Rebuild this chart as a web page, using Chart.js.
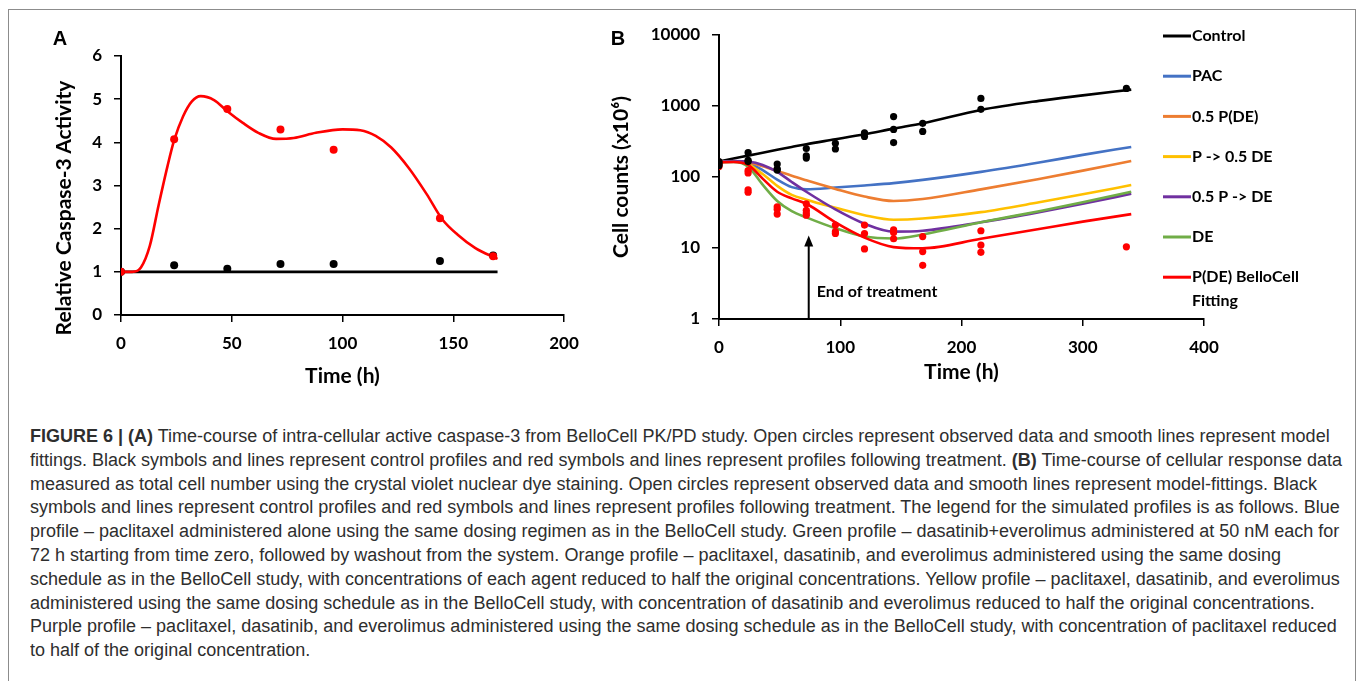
<!DOCTYPE html>
<html>
<head>
<meta charset="utf-8">
<script src="https://cdn.jsdelivr.net/npm/chart.js@4.4.0/dist/chart.umd.min.js"></script>
<style>
  body { margin: 0; background: #fff; width: 1357px; height: 681px; overflow: hidden; position: relative; }
  #frame { position: absolute; left: 8px; top: 9px; width: 1346px; height: 720px; border: 1px solid #8c8c8c; }
  #canvasA { position: absolute; left: 0; top: 0; }
  #canvasB { position: absolute; left: 600px; top: 0; }
  .panel { position: absolute; font: bold 20px "Liberation Sans", Arial, sans-serif; color: #000; transform: translate(-50%, -50%); }
  #ytitleA { position: absolute; left: 62px; top: 208px; transform: translate(-50%, -50%) rotate(-90deg);
             white-space: nowrap; font: bold 21px Lato, sans-serif; color: #000; }
  #caption { position: absolute; left: 30px; top: 425px; white-space: nowrap; transform-origin: 0 0;
             font: 18px "Liberation Sans Narrow", "Liberation Sans", Arial, sans-serif; line-height: 23.8px; color: #2e2e2e; }
</style>
</head>
<body>
<div id="frame"></div>
<canvas id="canvasA" width="600" height="400"></canvas>
<canvas id="canvasB" width="757" height="400"></canvas>
<div class="panel" style="left:60px;top:38px">A</div>
<div class="panel" style="left:618px;top:38px">B</div>
<div id="ytitleA">Relative Caspase-3 Activity</div>
<div id="caption">
<span><b>FIGURE 6 | (A)</b> Time-course of intra-cellular active caspase-3 from BelloCell PK/PD study. Open circles represent observed data and smooth lines represent model</span><br>
<span>fittings. Black symbols and lines represent control profiles and red symbols and lines represent profiles following treatment. <b>(B)</b> Time-course of cellular response data</span><br>
<span>measured as total cell number using the crystal violet nuclear dye staining. Open circles represent observed data and smooth lines represent model-fittings. Black</span><br>
<span>symbols and lines represent control profiles and red symbols and lines represent profiles following treatment. The legend for the simulated profiles is as follows. Blue</span><br>
<span>profile – paclitaxel administered alone using the same dosing regimen as in the BelloCell study. Green profile – dasatinib+everolimus administered at 50 nM each for</span><br>
<span id="refLine">72 h starting from time zero, followed by washout from the system. Orange profile – paclitaxel, dasatinib, and everolimus administered using the same dosing</span><br>
<span>schedule as in the BelloCell study, with concentrations of each agent reduced to half the original concentrations. Yellow profile – paclitaxel, dasatinib, and everolimus</span><br>
<span>administered using the same dosing schedule as in the BelloCell study, with concentration of dasatinib and everolimus reduced to half the original concentrations.</span><br>
<span>Purple profile – paclitaxel, dasatinib, and everolimus administered using the same dosing schedule as in the BelloCell study, with concentration of paclitaxel reduced</span><br>
<span>to half of the original concentration.</span>
</div>
<script>
// ---- panel A: caspase-3 activity ----
const caspTimes = [0, 24, 48, 72, 96, 144, 168];
const caspTreated = [1.0, 4.07, 4.77, 4.3, 3.83, 2.24, 1.36];
const caspControl = [1.0, 1.15, 1.07, 1.18, 1.18, 1.25, 1.38];
const caspFitTimes = [0, 5, 9, 13, 17, 21, 24, 28, 32, 36, 42, 48, 55, 62, 70, 78, 88, 100, 108, 115, 122, 130, 138, 145, 152, 160, 170];
const caspFit = [1.0, 1.0, 1.1, 1.6, 2.55, 3.45, 4.05, 4.6, 4.95, 5.07, 4.98, 4.72, 4.45, 4.22, 4.08, 4.1, 4.22, 4.3, 4.28, 4.15, 3.88, 3.4, 2.8, 2.22, 1.86, 1.55, 1.3];
const caspControlFitTimes = [0, 170];
const caspControlFit = [1, 1];

// ---- panel B: cell counts (x10^6) ----
const fitTimes = [0, 12, 24, 36, 48, 60, 72, 96, 120, 144, 168, 216, 264, 300, 340];
const fitControl = [165, 182, 200, 220, 242, 265, 290, 340, 400, 480, 570, 880, 1180, 1410, 1700];
const fitPAC = [162, 166, 158, 125, 92, 72, 67, 71, 76, 82, 91, 118, 160, 205, 265];
const fitHalfPDE = [162, 166, 160, 142, 122, 104, 90, 68, 53, 46, 49, 67, 94, 123, 168];
const fitPHalfDE = [162, 166, 152, 110, 75, 56, 48, 37, 29, 25, 26, 32, 44, 57, 77];
const fitHalfPDE2 = [162, 168, 165, 148, 118, 85, 62, 35, 22, 17, 17.5, 23, 32, 42, 58];
const fitDE = [160, 163, 140, 78, 46, 33, 27, 19, 14.5, 13.6, 15.5, 23, 33, 44, 62];
const fitBelloCell = [160, 163, 148, 95, 62, 50, 42, 23, 14, 10.3, 9.9, 13.5, 18.5, 23.5, 30];

const ctrlObsTimes = [0, 0, 0, 24, 24, 24, 48, 48, 48, 72, 72, 72, 96, 96, 120, 120, 144, 144, 144, 168, 168, 216, 216, 336];
const ctrlObs = [165, 155, 145, 220, 172, 165, 152, 125, 130, 252, 198, 185, 298, 248, 420, 372, 710, 468, 305, 570, 438, 1280, 898, 1770];
const trtObsTimes = [0, 0, 0, 24, 24, 24, 24, 48, 48, 48, 72, 72, 72, 72, 96, 96, 96, 120, 120, 120, 144, 144, 144, 168, 168, 168, 216, 216, 216, 336];
const trtObs = [162, 150, 140, 123, 114, 66, 61, 38, 35, 30, 42, 34, 31, 29, 21, 17, 16, 21, 16, 9.7, 18, 16.5, 13.5, 14.5, 8.9, 5.7, 17.5, 11, 8.7, 10.4];

const cellTicks = [1, 10, 100, 1000, 10000];
const treatmentEnd = 74;      // h, arrow position
const arrowTip = 15;          // cell count where the arrow ends
const arrowLabelAt = 2.4;     // cell count at label centre

const pts = (xs, ys) => xs.map((x, i) => ({ x: x, y: ys[i] }));

const tickFont = { family: "Lato", size: 17, weight: "bold" };
const titleFont = { family: "Lato", size: 21, weight: "bold" };

function axis(extra) {
  return Object.assign({
    ticks: { color: "#000", font: tickFont, padding: 11 },
    grid: { drawOnChartArea: false, color: "#000", lineWidth: 1.5, tickLength: 7 },
    border: { color: "#000", width: 2 },
  }, extra);
}

function fitLine(label, xs, ys, color, order) {
  return {
    label: label, data: pts(xs, ys), showLine: true, borderColor: color, backgroundColor: color,
    borderWidth: 2.6, pointRadius: 0, cubicInterpolationMode: "monotone", order: order, inLegend: true,
  };
}

function dots(label, xs, ys, color, r) {
  return { label: label, data: pts(xs, ys), showLine: false, pointRadius: r, pointBorderWidth: 0,
           backgroundColor: color, borderColor: color, order: 0 };
}

new Chart(document.getElementById("canvasA"), {
  type: "scatter",
  data: {
    datasets: [
      dots("treated", caspTimes, caspTreated, "#ff0000", 4),
      dots("control", caspTimes, caspControl, "#000000", 4),
      fitLine("treated fit", caspFitTimes, caspFit, "#ff0000", 1),
      fitLine("control fit", caspControlFitTimes, caspControlFit, "#000000", 2),
    ],
  },
  options: {
    responsive: false,
    animation: false,
    layout: { padding: { top: 56, right: 36, left: 0, bottom: 0 } },
    plugins: { legend: { display: false }, tooltip: { enabled: false } },
    scales: {
      x: axis({
        type: "linear", min: 0, max: 200,
        ticks: { color: "#000", font: tickFont, padding: 11, stepSize: 50 },
        title: { display: true, text: "Time (h)", color: "#000", font: titleFont, padding: { bottom: 11 } },
        afterFit: (s) => { s.height = 85; },
      }),
      y: axis({
        min: 0, max: 6,
        ticks: { color: "#000", font: tickFont, padding: 12, stepSize: 1 },
        afterFit: (s) => { s.width = 121; },
      }),
    },
  },
});

const legendLines = {
  id: "legendLines",
  afterDraw(chart) {
    const ctx = chart.ctx;
    let y = 36;
    ctx.save();
    ctx.font = "bold 16px Lato";
    ctx.textBaseline = "middle";
    chart.data.datasets.forEach((ds) => {
      if (!ds.inLegend) return;
      ctx.strokeStyle = ds.borderColor;
      ctx.lineWidth = 3;
      ctx.beginPath();
      ctx.moveTo(563, y);
      ctx.lineTo(591, y);
      ctx.stroke();
      ctx.fillStyle = "#000";
      // wrap long labels
      const words = ds.label.split(" ");
      let line = "";
      let ly = y;
      words.forEach((w) => {
        const test = line ? line + " " + w : w;
        if (ctx.measureText(test).width > 150 && line) {
          ctx.fillText(line, 592, ly);
          line = w;
          ly += 24;
        } else {
          line = test;
        }
      });
      ctx.fillText(line, 592, ly);
      y += 40.2;
    });
    ctx.restore();
  },
};

const endArrow = {
  id: "endArrow",
  afterDatasetsDraw(chart) {
    const ctx = chart.ctx;
    const xs = chart.scales.x, ys = chart.scales.y;
    const x = xs.getPixelForValue(treatmentEnd);
    const top = ys.getPixelForValue(arrowTip);
    ctx.save();
    ctx.strokeStyle = "#000";
    ctx.fillStyle = "#000";
    ctx.lineWidth = 2;
    ctx.beginPath();
    ctx.moveTo(x, chart.chartArea.bottom);
    ctx.lineTo(x, top + 8);
    ctx.stroke();
    ctx.beginPath();
    ctx.moveTo(x, top);
    ctx.lineTo(x - 4.5, top + 11);
    ctx.lineTo(x + 4.5, top + 11);
    ctx.closePath();
    ctx.fill();
    ctx.font = "bold 16px Lato";
    ctx.textBaseline = "middle";
    ctx.fillText("End of treatment", x + 8, ys.getPixelForValue(arrowLabelAt));
    ctx.restore();
  },
};

new Chart(document.getElementById("canvasB"), {
  type: "scatter",
  data: {
    datasets: [
      fitLine("Control", fitTimes, fitControl, "#000000", 7),
      fitLine("PAC", fitTimes, fitPAC, "#4472c4", 6),
      fitLine("0.5 P(DE)", fitTimes, fitHalfPDE, "#ed7d31", 5),
      fitLine("P -> 0.5 DE", fitTimes, fitPHalfDE, "#ffc000", 4),
      fitLine("0.5 P -> DE", fitTimes, fitHalfPDE2, "#7030a0", 3),
      fitLine("DE", fitTimes, fitDE, "#70ad47", 2),
      fitLine("P(DE) BelloCell Fitting", fitTimes, fitBelloCell, "#ff0000", 1),
      dots("control obs", ctrlObsTimes, ctrlObs, "#000000", 3.6),
      dots("treated obs", trtObsTimes, trtObs, "#ff0000", 3.6),
    ],
  },
  options: {
    responsive: false,
    animation: false,
    layout: { padding: { top: 35, right: 153, left: 0, bottom: 0 } },
    plugins: { legend: { display: false }, tooltip: { enabled: false } },
    scales: {
      x: axis({
        type: "linear", min: 0, max: 400,
        ticks: { color: "#000", font: tickFont, padding: 11, stepSize: 100 },
        title: { display: true, text: "Time (h)", color: "#000", font: titleFont, padding: { bottom: 15 } },
        afterFit: (s) => { s.height = 81; },
      }),
      y: axis({
        type: "logarithmic", min: 1, max: 10000,
        ticks: { color: "#000", font: tickFont, padding: 12, callback: (v) => String(v) },
        afterBuildTicks: (s) => { s.ticks = cellTicks.map((v) => ({ value: v })); },
        title: { display: true, text: "Cell counts (x10\u2076)", color: "#000", font: titleFont, padding: { top: 9 } },
        afterFit: (s) => { s.width = 119; },
      }),
    },
  },
  plugins: [legendLines, endArrow],
});

// fit the caption to the original column: line 6 (no bold text) ends near x = 1281
const cap = document.getElementById("caption");
const refLine = document.getElementById("refLine");
const k = 1251 / refLine.getBoundingClientRect().width;
cap.style.transform = "scaleX(" + k + ")";
</script>
</body>
</html>
